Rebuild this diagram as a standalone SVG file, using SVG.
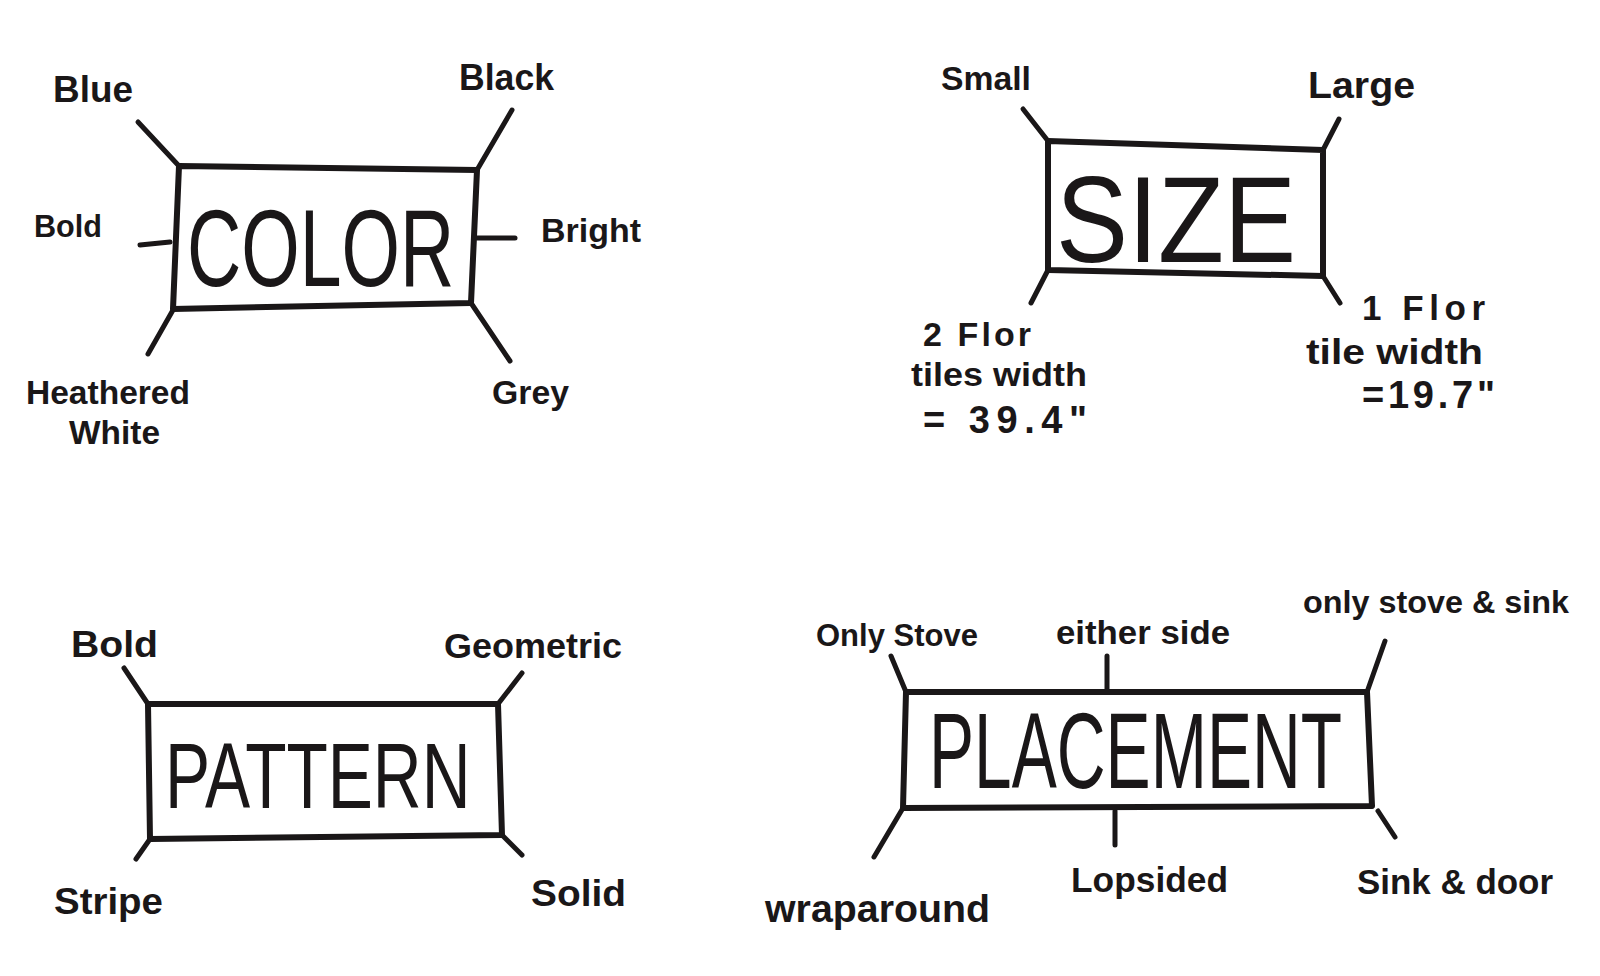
<svg xmlns="http://www.w3.org/2000/svg" width="1600" height="976" viewBox="0 0 1600 976">
<style>
.box{fill:none;stroke:#1a1718;stroke-width:6;stroke-linejoin:round;stroke-linecap:round}
.con{fill:none;stroke:#1a1718;stroke-width:5;stroke-linecap:round}
.lbl{font-family:"Liberation Sans","Arial",sans-serif;font-weight:700;fill:#1a1718}
.ttl{font-family:"Liberation Sans","Arial",sans-serif;font-weight:400;fill:#1a1718}
</style>
<rect width="1600" height="976" fill="#ffffff"/>

<g id="connectors">
  <line class="con" x1="138" y1="122" x2="179" y2="166"/>
  <line class="con" x1="512" y1="110" x2="477" y2="170"/>
  <line class="con" x1="140" y1="245" x2="170" y2="242"/>
  <line class="con" x1="477" y1="238" x2="515" y2="238"/>
  <line class="con" x1="148" y1="354" x2="173" y2="310"/>
  <line class="con" x1="471" y1="303" x2="510" y2="361"/>

  <line class="con" x1="1023" y1="109" x2="1048" y2="141"/>
  <line class="con" x1="1339" y1="119" x2="1323" y2="150"/>
  <line class="con" x1="1048" y1="270" x2="1031" y2="303"/>
  <line class="con" x1="1323" y1="276" x2="1340" y2="303"/>

  <line class="con" x1="124" y1="668" x2="148" y2="704"/>
  <line class="con" x1="522" y1="673" x2="498" y2="704"/>
  <line class="con" x1="150" y1="839" x2="136" y2="859"/>
  <line class="con" x1="502" y1="835" x2="522" y2="855"/>

  <line class="con" x1="891" y1="656" x2="906" y2="692"/>
  <line class="con" x1="1107" y1="656" x2="1107" y2="692"/>
  <line class="con" x1="1385" y1="641" x2="1367" y2="692"/>
  <line class="con" x1="903" y1="808" x2="874" y2="857"/>
  <line class="con" x1="1115" y1="811" x2="1115" y2="845"/>
  <line class="con" x1="1378" y1="811" x2="1395" y2="837"/>
</g>

<g id="color">
  <polygon class="box" points="179,166 477,170 471,303 173,309"/>
  <text class="ttl" transform="translate(187,286) scale(0.683,1)" font-size="110">COLOR</text>
  <text class="lbl" x="53" y="102" font-size="37" textLength="80" lengthAdjust="spacingAndGlyphs">Blue</text>
  <text class="lbl" x="459" y="90" font-size="36" textLength="95" lengthAdjust="spacingAndGlyphs">Black</text>
  <text class="lbl" x="34" y="237" font-size="31" textLength="68" lengthAdjust="spacingAndGlyphs">Bold</text>
  <text class="lbl" x="541" y="242" font-size="34" textLength="100" lengthAdjust="spacingAndGlyphs">Bright</text>
  <text class="lbl" x="26" y="404" font-size="33" textLength="164" lengthAdjust="spacingAndGlyphs">Heathered</text>
  <text class="lbl" x="69" y="444" font-size="33" textLength="91" lengthAdjust="spacingAndGlyphs">White</text>
  <text class="lbl" x="492" y="404" font-size="34" textLength="77" lengthAdjust="spacingAndGlyphs">Grey</text>
</g>

<g id="size">
  <polygon class="box" points="1048,141 1323,150 1323,276 1048,270"/>
  <text class="ttl" transform="translate(1056,262) scale(0.885,1)" font-size="122">SIZE</text>
  <text class="lbl" x="941" y="90" font-size="34" textLength="90" lengthAdjust="spacingAndGlyphs">Small</text>
  <text class="lbl" x="1308" y="98" font-size="37" textLength="107" lengthAdjust="spacingAndGlyphs">Large</text>
  <text class="lbl" x="923" y="346" font-size="34" textLength="108" lengthAdjust="spacing">2 Flor</text>
  <text class="lbl" x="911" y="386" font-size="34" textLength="176" lengthAdjust="spacingAndGlyphs">tiles width</text>
  <text class="lbl" x="923" y="433" font-size="38" textLength="164" lengthAdjust="spacing">= 39.4"</text>
  <text class="lbl" x="1362" y="320" font-size="35" textLength="123" lengthAdjust="spacing">1 Flor</text>
  <text class="lbl" x="1306" y="364" font-size="35" textLength="177" lengthAdjust="spacingAndGlyphs">tile width</text>
  <text class="lbl" x="1362" y="408" font-size="38" textLength="133" lengthAdjust="spacing">=19.7"</text>
</g>

<g id="pattern">
  <polygon class="box" points="148,704 498,704 502,835 150,839"/>
  <text class="ttl" transform="translate(165,808) scale(0.735,1)" font-size="92">PATTERN</text>
  <text class="lbl" x="71" y="657" font-size="37" textLength="87" lengthAdjust="spacingAndGlyphs">Bold</text>
  <text class="lbl" x="444" y="658" font-size="35" textLength="178" lengthAdjust="spacingAndGlyphs">Geometric</text>
  <text class="lbl" x="54" y="914" font-size="37" textLength="109" lengthAdjust="spacingAndGlyphs">Stripe</text>
  <text class="lbl" x="531" y="906" font-size="37" textLength="95" lengthAdjust="spacingAndGlyphs">Solid</text>
</g>

<g id="placement">
  <polygon class="box" points="906,692 1367,692 1372,806 903,808"/>
  <text class="ttl" transform="translate(929,788) scale(0.626,1)" font-size="108">PLACEMENT</text>
  <text class="lbl" x="816" y="646" font-size="31" textLength="162" lengthAdjust="spacingAndGlyphs">Only Stove</text>
  <text class="lbl" x="1056" y="644" font-size="34" textLength="174" lengthAdjust="spacingAndGlyphs">either side</text>
  <text class="lbl" x="1303" y="613" font-size="32" textLength="266" lengthAdjust="spacingAndGlyphs">only stove &amp; sink</text>
  <text class="lbl" x="765" y="922" font-size="38" textLength="225" lengthAdjust="spacingAndGlyphs">wraparound</text>
  <text class="lbl" x="1071" y="892" font-size="35" textLength="157" lengthAdjust="spacingAndGlyphs">Lopsided</text>
  <text class="lbl" x="1357" y="894" font-size="35" textLength="196" lengthAdjust="spacingAndGlyphs">Sink &amp; door</text>
</g>
</svg>
